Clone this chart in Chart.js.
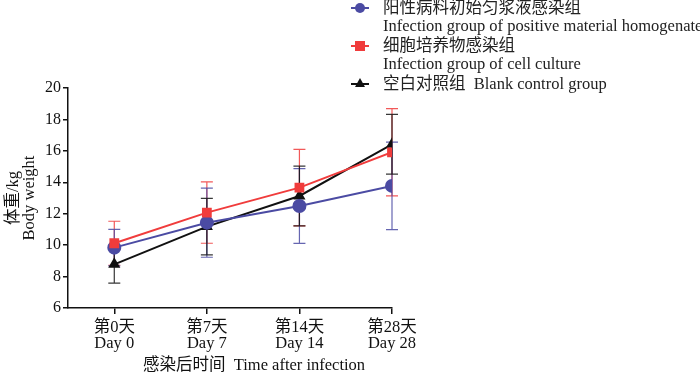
<!DOCTYPE html>
<html>
<head>
<meta charset="utf-8">
<script src="https://cdn.jsdelivr.net/npm/chart.js@4.4.1/dist/chart.umd.min.js"></script>
<style>
  body { margin: 0; background: #fff; }
  #wrap { position: relative; width: 700px; height: 374px; overflow: hidden; }
  .lg { position: absolute; left: 383px; font-family: 'Liberation Serif', 'Noto Sans CJK SC', serif; font-size: 16.5px; line-height: 18px; color: #222; white-space: nowrap; }
  .mk-line { position: absolute; left: 351px; width: 18px; height: 2px; }
  #x-title { position: absolute; left: 143px; top: 356px; font-family: 'Liberation Serif', 'Noto Sans CJK SC', serif; font-size: 16.5px; line-height: 18px; color: #111; white-space: nowrap; }
</style>
</head>
<body>
<div id="wrap">
  <canvas id="weight-chart"></canvas>

  <!-- legend -->
  <div class="mk-line" style="top:7px;background:#4b4ba3"></div>
  <div style="position:absolute;left:355px;top:3px;width:10px;height:10px;border-radius:50%;background:#4b4ba3"></div>
  <div class="lg" style="top:-1px">阳性病料初始匀浆液感染组</div>
  <div class="lg" style="top:17px">Infection group of positive material homogenate</div>

  <div class="mk-line" style="top:45px;background:#f03c3c"></div>
  <div style="position:absolute;left:355px;top:41px;width:10px;height:10px;background:#f03c3c"></div>
  <div class="lg" style="top:37px">细胞培养物感染组</div>
  <div class="lg" style="top:55px">Infection group of cell culture</div>

  <div class="mk-line" style="top:83px;background:#111"></div>
  <div style="position:absolute;left:355px;top:78px;width:0;height:0;border-left:5px solid transparent;border-right:5px solid transparent;border-bottom:9px solid #111"></div>
  <div class="lg" style="top:75px">空白对照组&nbsp; Blank control group</div>

  <!-- x axis title -->
  <div id="x-title">感染后时间&nbsp; Time after infection</div>
</div>

<script>
// --------------- body weight chart --------------- //

const dayLabels = [
  ['第0天', 'Day 0'],
  ['第7天', 'Day 7'],
  ['第14天', 'Day 14'],
  ['第28天', 'Day 28'],
];

// group means (kg)
const homogenateMean = [9.84, 11.43, 12.49, 13.77];
const cultureMean = [10.12, 12.07, 13.66, 15.91];
const blankMean = [8.78, 11.18, 13.13, 16.42];

// standard deviations (kg)
const homogenateSd = [1.16, 2.2, 2.38, 2.78];
const cultureSd = [1.4, 1.95, 2.44, 2.78];
const blankSd = [1.2, 1.8, 1.9, 1.9];

const yTicks = [6, 8, 10, 12, 14, 16, 18, 20];

const serif = "'Liberation Serif', 'Noto Sans CJK SC', serif";

function toPoints(values) {
  return values.map((v, i) => ({ x: i, y: v }));
}

// draws vertical error bars with caps under the markers
const errorBars = {
  id: 'errorBars',
  beforeDatasetsDraw(chart) {
    const ctx = chart.ctx;
    const xs = chart.scales.x;
    const ys = chart.scales.y;
    chart.data.datasets.forEach((ds) => {
      ctx.save();
      ctx.strokeStyle = ds.errColor;
      ctx.lineWidth = 1.2;
      ds.data.forEach((p, i) => {
        const sd = ds.sd[i];
        const px = xs.getPixelForValue(p.x);
        const top = ys.getPixelForValue(p.y + sd);
        const bot = ys.getPixelForValue(p.y - sd);
        ctx.beginPath();
        ctx.moveTo(px, top);
        ctx.lineTo(px, bot);
        ctx.moveTo(px - 6, top);
        ctx.lineTo(px + 6, top);
        ctx.moveTo(px - 6, bot);
        ctx.lineTo(px + 6, bot);
        ctx.stroke();
      });
      ctx.restore();
    });
  }
};

const weightData = {
  datasets: [
    {
      label: '细胞培养物感染组',
      data: toPoints(cultureMean),
      sd: cultureSd,
      errColor: 'rgba(240, 60, 60, 0.85)',
      borderColor: '#f03c3c',
      backgroundColor: '#f03c3c',
      pointStyle: 'rect',
      pointRadius: 5.5,
      borderWidth: 2,
    },
    {
      label: '阳性病料初始匀浆液感染组',
      data: toPoints(homogenateMean),
      sd: homogenateSd,
      errColor: 'rgba(75, 75, 163, 0.85)',
      borderColor: '#4b4ba3',
      backgroundColor: '#4b4ba3',
      pointStyle: 'circle',
      pointRadius: 6,
      borderWidth: 2,
    },
    {
      label: '空白对照组',
      data: toPoints(blankMean),
      sd: blankSd,
      errColor: 'rgba(20, 20, 20, 0.85)',
      borderColor: '#111',
      backgroundColor: '#111',
      pointStyle: 'triangle',
      pointRadius: 5,
      borderWidth: 2,
    },
  ]
};

const weightOptions = {
  responsive: true,
  maintainAspectRatio: false,
  animation: false,
  layout: {
    padding: { top: 88, right: 308, left: 0, bottom: 0 }
  },
  plugins: {
    legend: { display: false },
    tooltip: { enabled: false },
  },
  scales: {
    x: {
      type: 'linear',
      min: -0.5,
      max: 3,
      afterBuildTicks: (scale) => {
        scale.ticks = dayLabels.map((_, i) => ({ value: i }));
      },
      afterFit: (scale) => { scale.height = 66; },
      border: { color: '#111', width: 1.5 },
      grid: { drawOnChartArea: false, drawTicks: true, tickLength: 6, color: '#111', lineWidth: 1.5 },
      ticks: {
        color: '#111',
        padding: 5,
        maxRotation: 0,
        font: { family: serif, size: 16.5, lineHeight: 1.0 },
        callback: (value) => dayLabels[value],
      },
    },
    y: {
      min: 6,
      max: 20,
      afterBuildTicks: (scale) => {
        scale.ticks = yTicks.map((v) => ({ value: v }));
      },
      afterFit: (scale) => { scale.width = 68; },
      border: { color: '#111', width: 1.5 },
      grid: { drawOnChartArea: false, drawTicks: true, tickLength: 5, color: '#111', lineWidth: 1.5 },
      ticks: {
        color: '#111',
        padding: 2,
        font: { family: serif, size: 16 },
      },
      title: {
        display: true,
        text: ['体重/kg', 'Body weight'],
        color: '#111',
        font: { family: serif, size: 16.5, lineHeight: 0.95 },
        padding: { top: 6, bottom: 0 },
      }
    }
  }
};

const weightConfig = {
  type: 'line',
  data: weightData,
  plugins: [errorBars],
  options: weightOptions
};

const weightChart = new Chart(
  document.getElementById('weight-chart'),
  weightConfig
);
</script>
</body>
</html>
